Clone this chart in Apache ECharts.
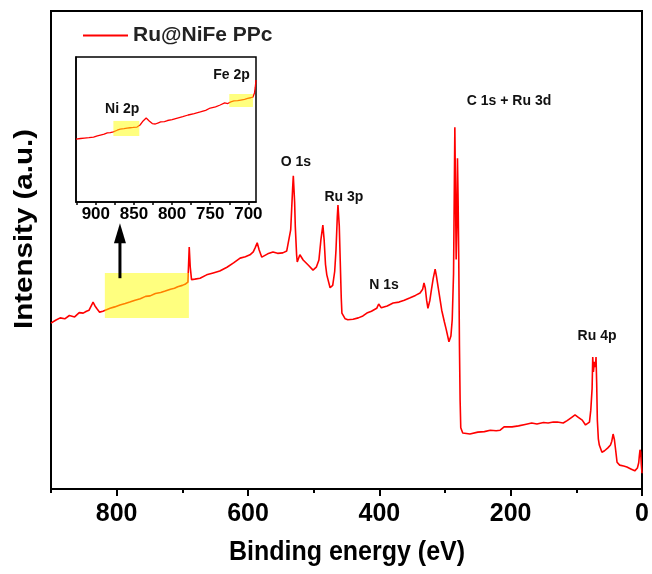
<!DOCTYPE html>
<html><head><meta charset="utf-8">
<script src="https://cdn.jsdelivr.net/npm/echarts@6/dist/echarts.min.js"></script>
<style>html,body{margin:0;padding:0;background:#fff}#c{width:652px;height:574px}</style>
</head><body><div id="c"></div><script>
// ---- main survey spectrum (binding energy eV, intensity a.u.) ----
const energy = [900,893,886,879,872,864,857,851,846,842,838,836,833,830,826,821,818,810,803,795,787,780,772,764,756,749,741,733,726,718,712,707,700,695,691.5,689.5,688,686,681,673,663,653,643,632,622,612,604,597,592,589,586,583,579,577,570,562,555,547,541,538,535,532,531,529,528,526,525,521,516,508,501,496,492,489,486,484,482,480,475,471,468,466,464,463,461,460,458,457,452,448,440,432,425,419,412,404,401,399,397,388,379,370,362,353,345,338,334,332,330,328,326,323,321,318,315,313,311,305,301,298,294,291,289,287,286,285,284,283,282,281,280,279,278,277,276,273,262,250,240,231,222,216,210,208,198,188,178,168,160,150,143,135,129,120,114,107,102,97,91,86,84,80,78,76,75,74,72.5,71,70,69,68,66.5,65,61,57,52,48,46,44,42,40,38,34,28,23,17,11,7,5,4,3,2,1,0];
const intensity = [34.7,35.3,35.8,35.6,36.3,36.0,36.9,36.8,37.2,37.4,38.5,39.1,38.3,37.7,37.0,37.2,37.4,37.8,38.1,38.5,38.8,39.1,39.5,39.8,40.3,40.4,40.9,41.1,41.4,41.8,42.0,42.3,42.6,42.9,43.3,50.6,46.5,43.8,43.9,44.1,44.8,45.2,45.6,46.4,47.3,48.3,48.6,49.0,49.6,50.5,51.5,50.0,48.5,48.5,49.2,49.6,49.3,49.4,49.8,49.6,54.2,63.0,65.5,60.0,55.0,49.0,47.5,49.0,47.9,46.8,45.8,46.4,47.9,52.1,55.2,52.0,47.0,44.8,42.1,42.6,45.5,50.0,57.0,59.4,55.0,50.0,40.0,36.8,35.6,35.4,35.5,35.8,36.2,36.8,37.2,37.8,38.7,38.3,37.9,38.3,38.9,39.1,39.5,40.0,40.5,41.0,41.8,43.1,42.0,39.5,37.8,39.5,41.4,44.0,46.0,44.5,42.7,37.4,35.0,33.3,30.8,32.0,35.4,45.0,60.0,75.7,62.0,48.0,55.0,69.2,60.0,47.3,30.0,18.6,12.8,11.7,11.5,11.9,12.0,12.3,12.2,12.3,13.0,12.6,13.0,13.2,13.5,13.8,13.6,13.9,13.8,14.0,14.0,13.8,14.3,15.0,15.5,15.0,14.4,13.4,13.2,14.0,16.5,21.0,27.6,24.5,26.6,25.5,27.6,22.0,14.4,10.5,9.2,7.7,8.0,8.6,9.2,10.0,11.5,10.3,8.0,5.6,5.0,4.8,4.6,4.2,3.8,4.4,5.5,7.0,8.2,7.7,5.0,3.3];

// ---- inset (zoomed 926-690 eV) ----
const insetEnergy = [926,920,915,909,903,898,894,889,885,881,877,872,868,863,859,855,851,846,842,838,834,830,826,822,818,815,810,806,800,793,786,779,771,763,756,750,743,737,731,727,723,719,714,710,705,701,697,694,692,691,690];
const insetIntensity = [43.4,43.8,44.1,44.4,44.8,45.6,46.2,46.8,47.6,47.9,48.3,49.5,50.3,50.6,51.0,51.2,51.4,51.7,53.1,55.9,57.9,55.9,54.1,53.8,54.6,55.2,55.5,56.2,56.8,57.9,58.8,60.0,61.0,62.1,63.2,64.8,65.6,66.9,68.3,67.9,69.0,69.7,69.9,70.3,70.8,71.4,71.9,72.4,75.2,79.0,84.1];

// ---- tick labels ----
const mainTickLabels = [0,200,400,600,800];
const mainMinorTicks = [100,300,500,700,900];
const insetTickLabels = [700,750,800,850,900];
const insetTicks = [700,725,750,775,800,825,850,875,900,925];

// ---- annotations (data coords) ----
const peakLabels = [
  {text:'O 1s', x:527, y:68.4},
  {text:'Ru 3p', x:454, y:61.1},
  {text:'N 1s', x:393, y:42.7},
  {text:'C 1s + Ru 3d', x:202.5, y:81.1},
  {text:'Ru 4p', x:68.5, y:32.0}
];
const insetLabels = [
  {text:'Ni 2p', x:865.5, y:64.1},
  {text:'Fe 2p', x:722, y:87.6}
];
const mainHighlight = [[818,35.8],[690,45.2]];
const insetHighlights = [[[877,45.5],[843,55.9]], [[725,65.5],[694,74.5]]];
const arrowPts = [[795,44.1],[795,55.6]];

const seriesName = 'Ru@NiFe PPc';
const FONT = '"Liberation Sans", Arial, sans-serif';
const RED = '#ff0000';
const YEL = 'rgba(255,255,0,0.5)';

const chart = echarts.init(document.getElementById('c'));
const mainData = energy.map((e,i)=>[e,intensity[i]]);
const insetData = insetEnergy.map((e,i)=>[e,insetIntensity[i]]);

chart.setOption({
  animation:false,
  backgroundColor:'#fff',
  legend:{data:[seriesName], left:83, top:25, padding:0, icon:'rect', itemWidth:45, itemHeight:2,
    textStyle:{fontFamily:FONT, fontSize:21, fontWeight:'bold', color:'#222'}},
  grid:[
    {left:51, right:10, top:11, bottom:85, show:true, borderColor:'#000', borderWidth:2},
    {left:76, top:57, width:180, height:145, show:true, borderColor:'#000', borderWidth:1.5, backgroundColor:'#fff'}
  ],
  xAxis:[
    {gridIndex:0, type:'value', min:0, max:900, inverse:true, interval:100,
      axisLine:{show:true, lineStyle:{color:'#000', width:2}},
      axisTick:{show:true, length:7, customValues:mainTickLabels, lineStyle:{color:'#000', width:2}},
      axisLabel:{margin:13, customValues:mainTickLabels, fontFamily:FONT, fontSize:25, fontWeight:'bold', color:'#000'},
      splitLine:{show:false}},
    {gridIndex:0, type:'value', min:0, max:900, inverse:true, interval:100, position:'bottom',
      axisLine:{show:false},
      axisTick:{show:true, length:4, customValues:mainMinorTicks, lineStyle:{color:'#000', width:2}},
      axisLabel:{show:false}, splitLine:{show:false}},
    {gridIndex:1, type:'value', min:690, max:926, inverse:true,
      axisLine:{show:true, lineStyle:{color:'#000', width:1.5}},
      axisTick:{show:true, length:3, customValues:insetTicks, lineStyle:{color:'#000', width:1.5}},
      axisLabel:{margin:4, customValues:insetTickLabels, fontFamily:FONT, fontSize:17, fontWeight:'bold', color:'#000'},
      splitLine:{show:false}}
  ],
  yAxis:[
    {gridIndex:0, type:'value', min:0, max:100, axisLine:{show:true, lineStyle:{color:'#000', width:2}},
      axisTick:{show:false}, axisLabel:{show:false}, splitLine:{show:false}},
    {gridIndex:1, type:'value', min:0, max:100, axisLine:{show:true, lineStyle:{color:'#000', width:1.5}},
      axisTick:{show:false}, axisLabel:{show:false}, splitLine:{show:false}}
  ],
  series:[
    {name:seriesName, type:'line', xAxisIndex:0, yAxisIndex:0, data:mainData, symbol:'none', color:RED,
      lineStyle:{color:RED, width:1.6}, z:3},
    {name:'hl', type:'line', xAxisIndex:0, yAxisIndex:0, data:[mainHighlight[0]], symbol:'none', lineStyle:{opacity:0}, z:10,
      markArea:{silent:true, z:10, itemStyle:{color:YEL}, data:[[{coord:mainHighlight[0]},{coord:mainHighlight[1]}]]}},
    {name:'inset', type:'line', xAxisIndex:2, yAxisIndex:1, data:insetData, symbol:'none', color:RED,
      lineStyle:{color:RED, width:1.3}, z:3},
    {name:'hl2', type:'line', xAxisIndex:2, yAxisIndex:1, data:[insetHighlights[0][0]], symbol:'none', lineStyle:{opacity:0}, z:10,
      markArea:{silent:true, z:10, itemStyle:{color:YEL}, data:insetHighlights.map(h=>[{coord:h[0]},{coord:h[1]}])}}
  ]
});

const g = [];
peakLabels.forEach(p=>{
  const px = chart.convertToPixel({gridIndex:0}, [p.x,p.y]);
  g.push({type:'text', x:px[0], y:px[1], z:20, style:{text:p.text, fill:'#111', font:'bold 14px '+FONT, align:'center', verticalAlign:'middle'}});
});
insetLabels.forEach(p=>{
  const px = chart.convertToPixel({xAxisIndex:2, yAxisIndex:1}, [p.x,p.y]);
  g.push({type:'text', x:px[0], y:px[1], z:20, style:{text:p.text, fill:'#111', font:'bold 14px '+FONT, align:'center', verticalAlign:'middle'}});
});
const a0 = chart.convertToPixel({gridIndex:0}, arrowPts[0]);
const a1 = chart.convertToPixel({gridIndex:0}, arrowPts[1]);
g.push({type:'line', z:20, shape:{x1:a0[0], y1:a0[1], x2:a1[0], y2:a1[1]+18}, style:{stroke:'#000', lineWidth:3}});
g.push({type:'polygon', z:20, shape:{points:[[a1[0],a1[1]],[a1[0]-6,a1[1]+20],[a1[0]+6,a1[1]+20]]}, style:{fill:'#000'}});
g.push({type:'text', x:25, y:229, rotation:Math.PI/2, scaleX:1.18, z:20, style:{text:'Intensity (a.u.)', fill:'#000', font:'bold 25px '+FONT, align:'center', verticalAlign:'middle'}});
g.push({type:'text', x:347, y:553, scaleY:1.08, z:20, style:{text:'Binding energy (eV)', fill:'#000', font:'bold 25px '+FONT, align:'center', verticalAlign:'middle'}});
chart.setOption({graphic:g});
</script></body></html>
